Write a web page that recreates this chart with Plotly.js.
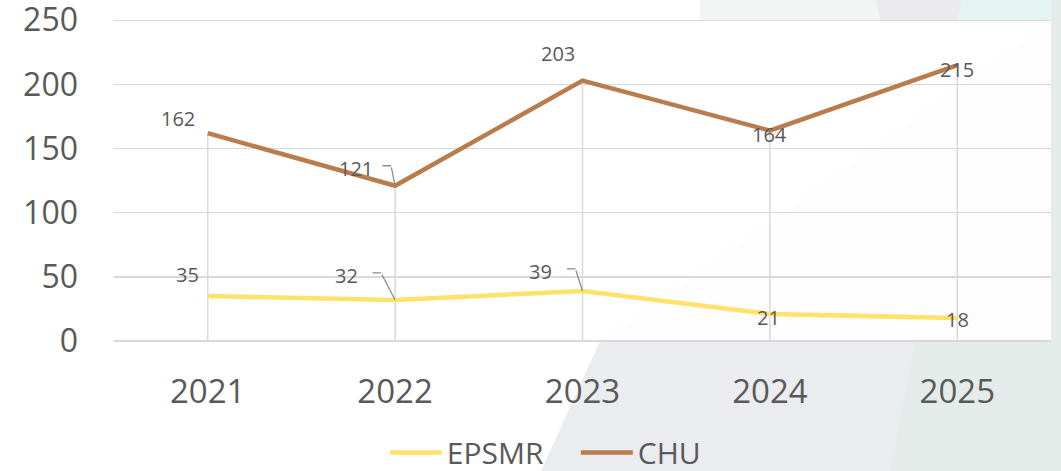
<!DOCTYPE html>
<html>
<head>
<meta charset="utf-8">
<script src="https://cdn.plot.ly/plotly-3.0.1.min.js"></script>
<style>html,body{margin:0;padding:0;background:#fff;}#chart{width:1061px;height:471px;}</style>
</head>
<body>
<div id="chart"></div>
<script>
var years = ["2021", "2022", "2023", "2024", "2025"];
var epsmr = [35, 32, 39, 21, 18];
var chu = [162, 121, 203, 164, 215];
var yTickStep = 50;
var yMax = 250;

// label offsets (px) relative to each point: [dx, dy, leader?]
var chuLabelOff = [[-30, -15, false], [-39, -17, true], [-25, -27, false], [0, 4, false], [0, 4, false]];
var epsLabelOff = [[-20, -22, false], [-49, -24, true], [-42, -19, true], [-1, 3, false], [0, 2, false]];

// drop lines from CHU points to the axis
var dropX = [], dropY = [];
for (var i = 0; i < years.length; i++) {
  dropX.push(years[i], years[i], null);
  dropY.push(chu[i], 0, null);
}

var txtColor = "#595959";
var traces = [
  {x: dropX, y: dropY, mode: "lines", line: {color: "#d9d9d9", width: 1.5}, showlegend: false, hoverinfo: "skip"},
  {x: years, y: epsmr, name: "EPSMR", mode: "lines", line: {color: "#ffe26a", width: 4.5}},
  {x: years, y: chu, name: "CHU", mode: "lines", line: {color: "#b97c4d", width: 4.5}}
];

var annotations = [];
var leaderColor = "#8c8c8c";
function addLabels(vals, offs) {
  for (var i = 0; i < vals.length; i++) {
    var o = offs[i];
    annotations.push({x: i, y: vals[i], xref: "x", yref: "y", text: String(vals[i]),
      showarrow: false, xshift: o[0], yshift: -o[1],
      font: {size: 20, color: txtColor, family: "Open Sans, sans-serif"}});
    if (o[2]) {
      // elbow leader: short horizontal piece then slanted piece to the point
      var sy = o[1] - 3, ex = o[0] + 25, elx = ex + 10;
      annotations.push({x: i, y: vals[i], xref: "x", yref: "y", text: "", showarrow: true,
        arrowhead: 0, arrowwidth: 1.3, arrowcolor: leaderColor, standoff: 0, ax: elx, ay: sy});
      annotations.push({x: i, y: vals[i], xref: "x", yref: "y", text: "", showarrow: true,
        arrowhead: 0, arrowwidth: 1.3, arrowcolor: leaderColor, standoff: 0,
        xshift: elx, yshift: -sy, ax: -10, ay: 0});
    }
  }
}
addLabels(chu, chuLabelOff);
addLabels(epsmr, epsLabelOff);

// decorative background polygons (pixel coords -> paper)
var plotL = 114.4, plotR = 1050.6, plotB = 341, plotT = 19.1;
function px(x) { return (x - plotL) / (plotR - plotL); }
function py(y) { return (plotB - y) / (plotB - plotT); }
function poly(pts, color) {
  var d = pts.map(function (p, k) { return (k ? "L" : "M") + px(p[0]) + "," + py(p[1]); }).join(" ") + " Z";
  return {type: "path", xref: "paper", yref: "paper", path: d, fillcolor: color, line: {width: 0}, layer: "below"};
}
var shapes = [
  poly([[541, 471], [600, 341], [1061, 341], [1061, 471]], "#eaecef"),
  poly([[890, 471], [915, 341], [1061, 341], [1061, 471]], "#e4ece9"),
  poly([[1050, 0], [1061, 0], [1061, 471], [1050, 471]], "#e4ece9"),
  poly([[700, 0], [875, 0], [880, 20], [700, 20]], "#f3f5f4"),
  poly([[875, 0], [962, 0], [958, 20], [880, 20]], "#ebebef"),
  poly([[962, 0], [1050, 0], [1050, 20], [958, 20]], "#e4f4f0"),
  poly([[600, 341], [1050, 20], [1050, 341]], "#f6f5f6"),
  {type: "rect", xref: "paper", yref: "paper", x0: 0, x1: 1, y0: 0, y1: py(20.4), fillcolor: "rgba(255,255,255,0.82)", line: {width: 0}, layer: "below"}
];

var layout = {
  width: 1061, height: 471,
  margin: {l: plotL, r: 1061 - plotR, t: plotT, b: 471 - plotB, autoexpand: false},
  paper_bgcolor: "#ffffff",
  plot_bgcolor: "rgba(0,0,0,0)",
  font: {family: "Open Sans, sans-serif", color: txtColor},
  xaxis: {type: "category", range: [-0.5, 4.5], showgrid: false, zeroline: false, showline: false,
    tickfont: {size: 33, color: txtColor}, ticks: "", ticklabelstandoff: 28, fixedrange: true},
  yaxis: {range: [0, yMax + 1], tickmode: "linear", tick0: 0, dtick: yTickStep, showgrid: true,
    gridcolor: "#d9d9d9", gridwidth: 1.5, ticklabeloverflow: "allow",
    zeroline: true, zerolinecolor: "#d9d9d9", zerolinewidth: 1.5, showline: false,
    tickfont: {size: 32, color: txtColor}, ticks: "", ticklabelstandoff: 35, fixedrange: true},
  legend: {orientation: "h", x: 0.289, xanchor: "left", y: -0.346, yanchor: "middle",
    font: {size: 30, color: txtColor}, bgcolor: "rgba(0,0,0,0)", itemwidth: 52,
    entrywidth: 124, entrywidthmode: "pixels"},
  annotations: annotations,
  shapes: shapes,
  showlegend: true
};

Plotly.newPlot("chart", traces, layout, {displayModeBar: false, staticPlot: true});
</script>
</body>
</html>
